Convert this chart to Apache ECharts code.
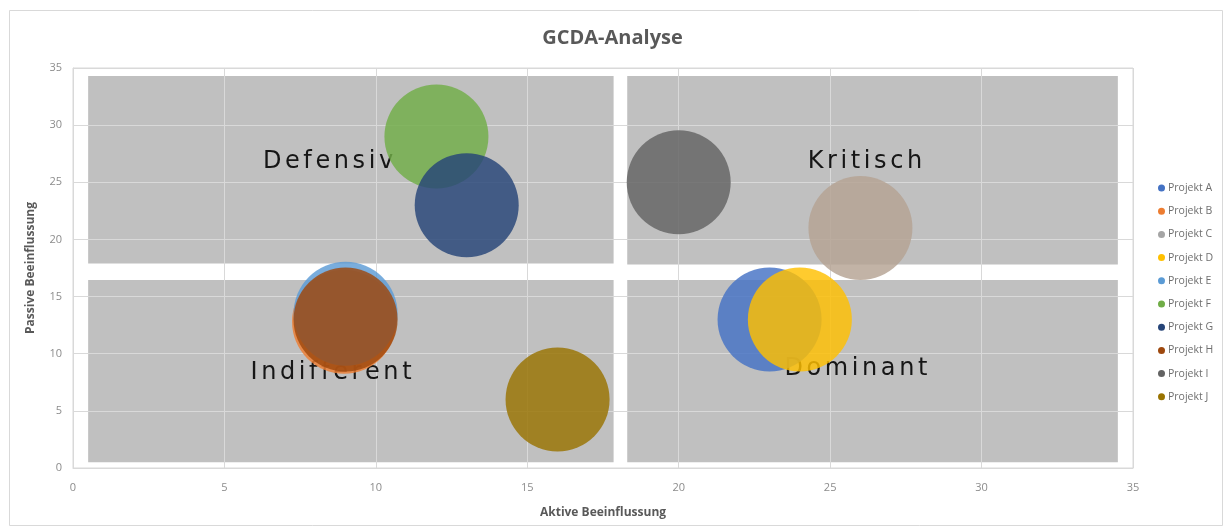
<!DOCTYPE html>
<html>
<head>
<meta charset="utf-8">
<script src="https://cdn.jsdelivr.net/npm/echarts@6/dist/echarts.min.js"></script>
<style>
  html, body { margin: 0; padding: 0; background: #ffffff; }
  #chart { width: 1225px; height: 528px; }
</style>
</head>
<body>
<div id="chart"></div>
<script>
// Projects: active influence (x), passive influence (y)
const projects = ['Projekt A', 'Projekt B', 'Projekt C', 'Projekt D', 'Projekt E',
                  'Projekt F', 'Projekt G', 'Projekt H', 'Projekt I', 'Projekt J'];
const aktiv   = [23, 8.95, 26, 24, 9, 12, 13, 9, 20, 16];
const passiv  = [13, 12.8, 21, 13, 13.5, 29, 23, 13, 25, 6];
const colors  = ['#4472C4', '#ED7D31', '#A5A5A5', '#FFC000', '#5B9BD5',
                 '#70AD47', '#264478', '#9E480E', '#636363', '#997300'];

// Axis ticks (both axes 0..35, step 5)
const axisMin = 0, axisMax = 35, axisStep = 5;

// Quadrant fields: [x0, y0, x1, y1] in axis units
const quadrants = [
  [0.5, 17.9, 17.85, 34.3],
  [18.3, 17.8, 34.5, 34.3],
  [0.5, 0.5, 17.85, 16.45],
  [18.3, 0.5, 34.5, 16.45]
];
// Quadrant names and their anchor points
const quadrantNames = ['Defensiv', 'Kritisch', 'Indifferent', 'Dominant'];
const quadrantNameX = [8.42, 26.15, 8.52, 25.85];
const quadrantNameY = [26.8, 26.8, 8.3, 8.65];

const chart = echarts.init(document.getElementById('chart'), null, { renderer: 'canvas' });

const labelFont = '24px "DejaVu Sans"';
const letterGap = 3.6;
const measureCtx = document.createElement('canvas').getContext('2d');
measureCtx.font = labelFont;

// Letter-spaced text, centred on (cx, cy)
function spacedText(str, cx, cy) {
  const chars = Array.from(str);
  const widths = chars.map(ch => measureCtx.measureText(ch).width);
  const total = widths.reduce((a, b) => a + b, 0) + letterGap * (widths.length - 1);
  let x = cx - total / 2;
  const children = chars.map((ch, i) => {
    const el = {
      type: 'text',
      style: { x: x, y: cy, text: ch, font: labelFont, fill: '#161616',
               textAlign: 'left', textVerticalAlign: 'middle' }
    };
    x += widths[i] + letterGap;
    return el;
  });
  return { type: 'group', children: children };
}

const bubbleSeries = projects.map((name, i) => ({
  name: name,
  type: 'scatter',
  z: 3,
  symbolSize: 104,
  itemStyle: { color: colors[i], opacity: 0.82 },
  emphasis: { disabled: true },
  data: [i === 2
    ? { value: [aktiv[i], passiv[i]], itemStyle: { color: '#b5a293' } }
    : [aktiv[i], passiv[i]]]
}));

chart.setOption({
  animation: false,
  backgroundColor: '#ffffff',
  title: {
    text: 'GCDA-Analyse',
    left: 'center',
    top: 23,
    textStyle: { fontFamily: '"Open Sans"', fontSize: 20, fontWeight: 'bold', color: '#595959' }
  },
  graphic: [{
    type: 'rect',
    shape: { x: 9.5, y: 10.5, width: 1213, height: 515 },
    style: { fill: 'none', stroke: '#d9d9d9', lineWidth: 1 },
    silent: true, z: -10
  }],
  legend: {
    orient: 'vertical',
    left: 1153,
    top: 177,
    icon: 'circle',
    itemWidth: 7,
    itemHeight: 7,
    itemGap: 11.2,
    data: projects.map((n, i) => ({ name: n, itemStyle: { color: colors[i], opacity: 1 } })),
    textStyle: { fontFamily: '"Open Sans"', fontSize: 10.5, color: '#6f6f6f', lineHeight: 12, padding: [0, 0, 0, -2] }
  },
  grid: {
    left: 73, right: 92, top: 68, bottom: 60,
    show: true, borderColor: '#d9d9d9', borderWidth: 1, backgroundColor: 'transparent'
  },
  xAxis: {
    type: 'value', min: axisMin, max: axisMax, interval: axisStep,
    name: 'Aktive Beeinflussung', nameLocation: 'middle', nameGap: 39,
    nameTextStyle: { fontFamily: '"Open Sans"', fontSize: 12, fontWeight: 'bold', color: '#595959' },
    axisLine: { show: true, lineStyle: { color: '#d9d9d9' } },
    axisTick: { show: false },
    axisLabel: { fontFamily: '"Open Sans"', fontSize: 11, color: '#8c8c8c', margin: 14 },
    splitLine: { show: true, lineStyle: { color: '#d9d9d9', width: 1 } }
  },
  yAxis: {
    type: 'value', min: axisMin, max: axisMax, interval: axisStep,
    name: 'Passive Beeinflussung', nameLocation: 'middle', nameGap: 36,
    nameTextStyle: { fontFamily: '"Open Sans"', fontSize: 12, fontWeight: 'bold', color: '#595959' },
    axisLine: { show: true, lineStyle: { color: '#d9d9d9' } },
    axisTick: { show: false },
    axisLabel: { fontFamily: '"Open Sans"', fontSize: 11, color: '#8c8c8c', margin: 11 },
    splitLine: { show: true, lineStyle: { color: '#d9d9d9', width: 1 } }
  },
  series: [
    {
      type: 'custom',
      name: 'Felder',
      z: -1,
      silent: true,
      data: quadrants,
      renderItem: function (params, api) {
        const p0 = api.coord([api.value(0), api.value(3)]);
        const p1 = api.coord([api.value(2), api.value(1)]);
        return {
          type: 'rect',
          shape: { x: p0[0], y: p0[1], width: p1[0] - p0[0], height: p1[1] - p0[1] },
          style: { fill: '#c0c0c0' }
        };
      }
    },
    {
      type: 'custom',
      name: 'Feldnamen',
      z: 1,
      silent: true,
      data: quadrantNames.map((n, i) => [quadrantNameX[i], quadrantNameY[i]]),
      renderItem: function (params, api) {
        const p = api.coord([api.value(0), api.value(1)]);
        return spacedText(quadrantNames[params.dataIndex], p[0], p[1]);
      }
    }
  ].concat(bubbleSeries)
});
</script>
</body>
</html>
